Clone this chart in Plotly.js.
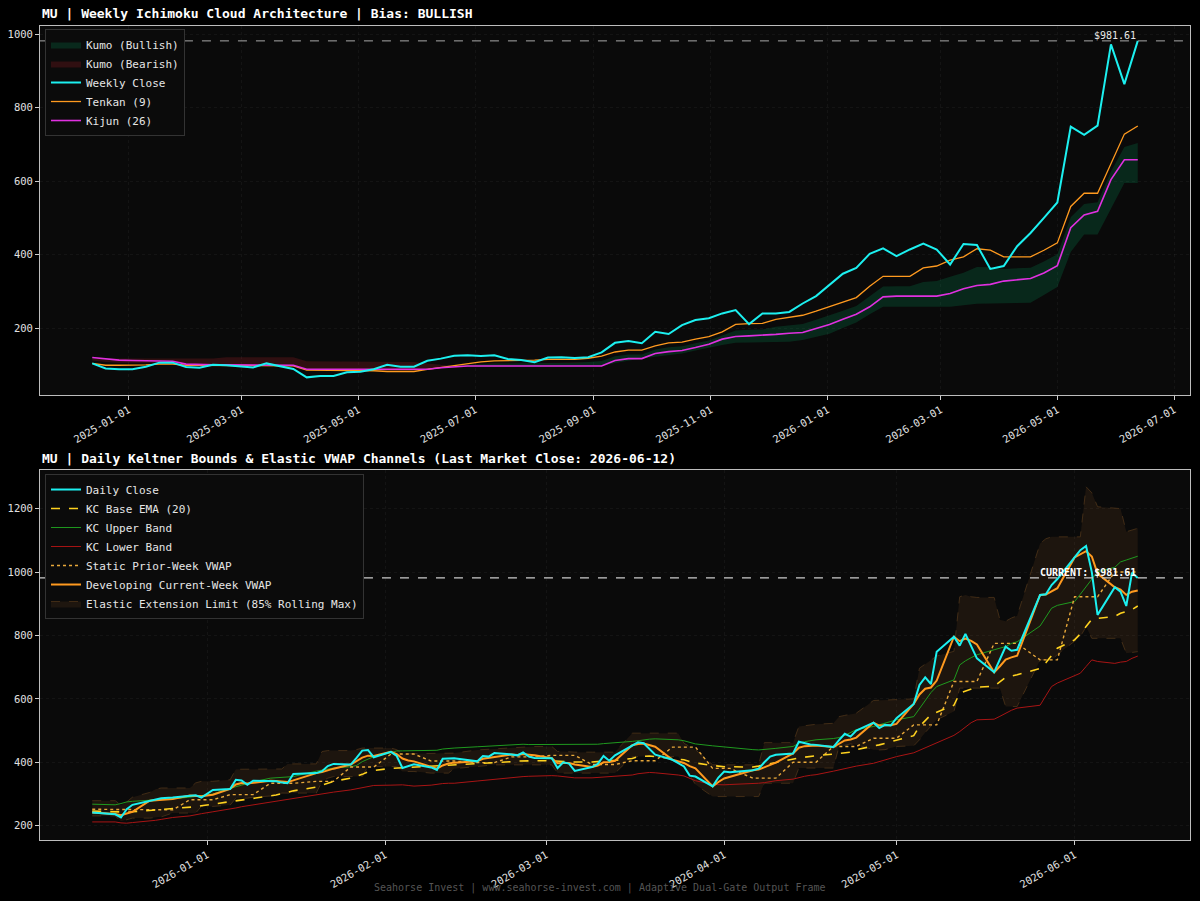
<!DOCTYPE html>
<html>
<head>
<meta charset="utf-8">
<script src="https://cdn.plot.ly/plotly-3.0.1.min.js"></script>
<style>
html,body{margin:0;padding:0;background:#000;}
#chart{width:1200px;height:901px;}
</style>
</head>
<body>
<div id="chart"></div>
<script>
// ---------------- WEEKLY (top panel) ----------------
const weeklyStart = '2024-12-13';
const weeklyClose = [104, 90, 88, 88, 95, 106, 106, 94, 92, 100,
  99, 95, 93, 104, 96, 89, 66, 70, 70, 80,
  81, 88, 100, 95, 95, 111, 117, 125, 126, 124,
  126, 116, 113, 107, 120, 121, 119, 121, 134, 160,
  165, 159, 190, 184, 208, 222, 227, 240, 249, 211,
  240, 240, 244, 267, 287, 318, 348, 364, 402, 417,
  396, 414, 430, 414, 373, 429, 426, 361, 369, 423,
  459, 500, 542, 748, 726, 751, 972, 864, 981.61];
const tenkan = [104, 99, 99, 99, 100, 102, 102, 99, 99, 99,
  99, 99, 99, 99, 98, 97, 86, 86, 86, 86,
  86, 84, 82, 82, 82, 88, 93, 97, 104, 108,
  111, 111, 111, 113, 115, 115, 115, 118, 124, 135,
  140, 140, 152, 160, 162, 170, 177, 190, 210, 212,
  213, 224, 230, 235, 246, 258, 271, 283, 314, 341,
  341, 341, 364, 369, 385, 394, 416, 412, 394, 394,
  394, 412, 432, 531, 567, 567, 649, 728, 750];
const kijun = [120, 116, 113, 112, 112, 111, 110, 102, 100, 100,
  100, 100, 100, 100, 100, 99, 88, 88, 88, 88,
  88, 88, 87, 86, 86, 88, 92, 95, 97, 97,
  97, 97, 97, 97, 97, 97, 97, 97, 97, 112,
  117, 117, 131, 136, 139, 147, 156, 170, 177, 179,
  180, 183, 186, 188, 199, 210, 224, 238, 258, 285,
  287, 287, 287, 287, 294, 307, 316, 319, 328, 331,
  335, 350, 370, 473, 508, 518, 604, 658, 658];
const senkouA = [112, 107.5, 106, 105.5, 106, 106.5, 106, 100.5, 99.5, 99.5,
  99.5, 99.5, 99.5, 99.5, 99, 98, 87, 87, 87, 87,
  87, 86, 84.5, 84, 84, 88, 92.5, 96, 100.5, 102.5,
  104, 104, 104, 105, 106, 106, 106, 107.5, 110.5, 123.5,
  128.5, 128.5, 141.5, 148, 150.5, 158.5, 166.5, 180, 193.5, 195.5,
  196.5, 203.5, 208, 211.5, 222.5, 234, 247.5, 260.5, 286, 313,
  314, 314, 325.5, 328, 339.5, 350.5, 366, 365.5, 361, 362.5,
  364.5, 381, 401, 502, 537.5, 542.5, 626.5, 693, 704];
const senkouB = [117, 117, 117, 117, 117, 117, 117, 117, 117, 117,
  121, 121, 121, 121, 121, 121, 110, 110, 110, 110,
  110, 110, 110, 110, 108, 104, 100, 95, 95, 95,
  95, 95, 95, 95, 95, 95, 95, 95, 97, 105,
  112, 117, 122, 127, 131, 139, 147, 154, 160, 161,
  161, 162, 163, 168, 176, 185, 200, 215, 238, 258,
  258, 258, 258, 258, 258, 262, 266, 267, 268, 268,
  269, 290, 312, 407, 455, 455, 525, 595, 595];
const weeklyTicks = ['2025-01-01','2025-03-01','2025-05-01','2025-07-01','2025-09-01',
  '2025-11-01','2026-01-01','2026-03-01','2026-05-01','2026-07-01'];

// ---------------- DAILY (bottom panel) ----------------
const dailyDates = [
 '2025-12-12','2025-12-15','2025-12-16','2025-12-17','2025-12-18','2025-12-19','2025-12-22','2025-12-23','2025-12-24','2025-12-26','2025-12-29','2025-12-30','2025-12-31',
 '2026-01-02','2026-01-05','2026-01-06','2026-01-07','2026-01-08','2026-01-09','2026-01-12','2026-01-13','2026-01-14','2026-01-15','2026-01-16','2026-01-20','2026-01-21','2026-01-22','2026-01-23','2026-01-26','2026-01-27','2026-01-28','2026-01-29','2026-01-30',
 '2026-02-02','2026-02-03','2026-02-04','2026-02-05','2026-02-06','2026-02-09','2026-02-10','2026-02-11','2026-02-12','2026-02-13','2026-02-17','2026-02-18','2026-02-19','2026-02-20','2026-02-23','2026-02-24','2026-02-25','2026-02-26','2026-02-27',
 '2026-03-02','2026-03-03','2026-03-04','2026-03-05','2026-03-06','2026-03-09','2026-03-10','2026-03-11','2026-03-12','2026-03-13','2026-03-16','2026-03-17','2026-03-18','2026-03-19','2026-03-20','2026-03-23','2026-03-24','2026-03-25','2026-03-26','2026-03-27','2026-03-30','2026-03-31',
 '2026-04-01','2026-04-02','2026-04-06','2026-04-07','2026-04-08','2026-04-09','2026-04-10','2026-04-13','2026-04-14','2026-04-15','2026-04-16','2026-04-17','2026-04-20','2026-04-21','2026-04-22','2026-04-23','2026-04-24','2026-04-27','2026-04-28','2026-04-29','2026-04-30',
 '2026-05-01','2026-05-04','2026-05-05','2026-05-06','2026-05-07','2026-05-08','2026-05-11','2026-05-12','2026-05-13','2026-05-14','2026-05-15','2026-05-18','2026-05-19','2026-05-20','2026-05-21','2026-05-22','2026-05-26','2026-05-27','2026-05-28','2026-05-29',
 '2026-06-01','2026-06-02','2026-06-03','2026-06-04','2026-06-05','2026-06-08','2026-06-09','2026-06-10','2026-06-11','2026-06-12'];
const dailyClose = [242, 238, 236, 226, 252, 266, 279, 282, 287, 289, 295, 296, 289,
 313, 316, 345, 343, 329, 342, 342, 340, 336, 334, 363, 366, 372, 388, 395, 393, 414, 437, 439, 416,
 433, 420, 382, 388, 394, 384, 376, 411, 413, 413, 403, 420, 418, 429, 425, 422, 431, 418, 414,
 413, 382, 400, 396, 373, 385, 395, 420, 405, 422, 454, 463, 460, 442, 424, 408, 398, 387, 358, 355, 324, 352,
 371, 369, 375, 380, 400, 418, 424, 428, 465, 460, 456, 455, 448, 470, 490, 481, 500, 525, 508, 518, 516,
 539, 584, 644, 668, 647, 749, 796, 768, 805, 765, 728, 684, 723, 765, 752, 755, 928, 930, 959, 978,
 1046, 1069, 1082, 1000, 865, 952, 938, 893, 998, 981.61];
const kcBase = [246, 244, 243, 242, 243, 244, 248, 250, 251, 254, 258, 260, 263,
 268, 275, 277, 280, 282, 285, 294, 297, 300, 305, 310, 322, 328, 334, 340, 350, 355, 362, 370, 374,
 381, 382, 383, 384, 385, 387, 388, 389, 390, 391, 394, 395, 396, 397, 402, 404, 405, 405, 405,
 405, 404, 403, 402, 401, 401, 402, 403, 404, 406, 412, 418, 419, 420, 418, 412, 410, 408, 402, 398, 390, 387,
 386, 386, 385, 388, 392, 396, 400, 410, 414, 416, 419, 421, 426, 428, 429, 432, 440, 450, 455, 460, 465,
 470, 484, 513, 532, 550, 558, 580, 618, 625, 632, 637, 640, 654, 668, 672, 676, 696, 714, 737, 760,
 786, 805, 828, 851, 854, 860, 870, 875, 882, 893];
const kcUpper = [268, 267, 266, 270, 275, 277, 280, 281, 282, 285, 290, 292, 294,
 300, 318, 322, 328, 333, 338, 350, 351, 352, 353, 355, 372, 376, 380, 382, 386, 390, 402, 410, 418,
 430, 436, 436, 436, 436, 436, 438, 442, 444, 445, 449, 450, 451, 452, 456, 457, 457, 456, 456,
 455, 455, 455, 455, 455, 456, 457, 459, 460, 462, 466, 468, 471, 473, 474, 472, 471, 468, 463, 458, 452, 450,
 448, 446, 440, 439, 440, 442, 444, 450, 460, 465, 469, 471, 475, 478, 485, 495, 503, 513, 518, 523, 528,
 534, 544, 570, 598, 620, 639, 660, 707, 720, 730, 739, 755, 760, 765, 775, 780, 830, 858, 886, 895,
 907, 930, 954, 980, 1001, 1015, 1032, 1038, 1045, 1050];
const kcLower = [212, 212, 212, 209, 208, 210, 214, 217, 220, 226, 231, 235, 238,
 244, 252, 256, 260, 263, 266, 275, 278, 281, 283, 286, 298, 301, 304, 306, 313, 316, 319, 323, 327,
 328, 329, 329, 327, 325, 328, 331, 333, 334, 334, 341, 343, 345, 347, 352, 353, 355, 356, 357,
 358, 357, 355, 353, 351, 351, 352, 353, 354, 355, 360, 364, 367, 368, 367, 363, 360, 357, 350, 342, 330, 329,
 329, 330, 332, 334, 336, 339, 342, 347, 352, 356, 359, 361, 372, 376, 380, 384, 388, 397, 402, 407, 413,
 418, 430, 438, 446, 453, 460, 485, 497, 512, 525, 534, 536, 545, 555, 564, 571, 580, 610, 639, 650,
 672, 681, 702, 723, 718, 712, 716, 718, 728, 735];
const priorWeekVwap = [252, 252, 252, 252, 252, 252, 250, 250, 250, 250, 282, 282, 282,
 282, 298, 298, 298, 298, 298, 334, 334, 334, 334, 334, 340, 340, 340, 340, 385, 385, 385, 385, 385,
 426, 426, 426, 426, 426, 404, 404, 404, 404, 404, 399, 399, 399, 399, 417, 417, 417, 417, 417,
 422, 422, 422, 422, 422, 393, 393, 393, 393, 393, 405, 405, 405, 405, 405, 448, 448, 448, 448, 448, 381, 381,
 381, 381, 350, 350, 350, 350, 350, 400, 400, 400, 400, 400, 450, 450, 450, 450, 450, 476, 476, 476, 476,
 476, 518, 518, 518, 518, 518, 655, 655, 655, 655, 655, 775, 775, 775, 775, 775, 723, 723, 723, 723,
 922, 922, 922, 922, 922, 1000, 1000, 1000, 1000, 1000];
const currentWeekVwap = [242, 238, 237, 233, 238, 244, 279, 280, 283, 284, 295, 295, 293,
 298, 316, 330, 335, 333, 335, 342, 341, 339, 338, 343, 366, 369, 375, 380, 393, 403, 415, 421, 420,
 433, 426, 412, 406, 403, 384, 380, 390, 396, 399, 403, 411, 414, 417, 425, 423, 426, 424, 422,
 413, 397, 398, 398, 393, 385, 390, 400, 401, 405, 454, 458, 459, 455, 449, 408, 403, 398, 388, 381, 324, 338,
 349, 354, 375, 377, 385, 393, 399, 428, 446, 451, 452, 453, 448, 459, 469, 472, 478, 525, 516, 517, 517,
 521, 584, 614, 632, 636, 658, 796, 782, 790, 783, 772, 684, 703, 724, 731, 736, 928, 929, 939, 949,
 1046, 1057, 1066, 1049, 995, 952, 945, 928, 938, 942];
const elasticUpper = [279, 279, 279, 265, 275, 290, 305, 315, 319, 319, 319, 335, 340,
 340, 345, 378, 378, 378, 378, 378, 379, 379, 395, 395, 395, 434, 437, 437, 437, 440, 445, 445, 445,
 445, 440, 427, 427, 427, 427, 427, 427, 429, 429, 439, 440, 442, 444, 446, 448, 449, 450, 450,
 450, 434, 434, 432, 432, 432, 432, 432, 432, 432, 492, 492, 492, 492, 492, 492, 492, 460, 450, 440, 392, 392,
 392, 392, 392, 392, 462, 462, 462, 462, 513, 515, 518, 520, 523, 544, 548, 552, 555, 595, 596, 597, 597,
 597, 600, 697, 710, 723, 735, 750, 922, 928, 922, 920, 920, 850, 845, 855, 862, 1090, 1105, 1111, 1111,
 1111, 1111, 1269, 1250, 1206, 1203, 1200, 1127, 1133, 1138];
const elasticLower = [231, 231, 231, 214, 220, 224, 224, 226, 228, 240, 240, 240, 261,
 261, 265, 287, 287, 287, 290, 295, 295, 303, 303, 303, 303, 340, 350, 355, 355, 355, 355, 387, 387,
 387, 387, 371, 371, 371, 366, 366, 366, 366, 380, 388, 390, 392, 392, 392, 392, 392, 392, 392,
 392, 366, 366, 366, 366, 366, 366, 366, 366, 366, 418, 418, 418, 418, 418, 418, 418, 390, 360, 330, 292, 292,
 292, 292, 292, 292, 334, 334, 334, 334, 382, 382, 382, 382, 382, 450, 455, 458, 455, 440, 439, 440, 445,
 450, 452, 471, 494, 513, 534, 560, 634, 634, 634, 634, 634, 634, 576, 576, 576, 723, 723, 723, 740,
 780, 796, 828, 791, 791, 791, 791, 744, 747, 749];
const dailyTicks = ['2026-01-01','2026-02-01','2026-03-01','2026-04-01','2026-05-01','2026-06-01'];
const lastCloseLabel = 'CURRENT: $' + dailyClose[dailyClose.length-1].toFixed(2);

// ---------------- helpers ----------------
const weeklyDates = weeklyClose.map((_, i) => {
  const t = Date.parse(weeklyStart + 'T00:00:00Z') + i * 7 * 86400000;
  return new Date(t).toISOString().slice(0, 10);
});
const kumoTop = senkouA.map((a, i) => Math.max(a, senkouB[i]));
const lastWeekly = weeklyClose[weeklyClose.length - 1];
const lastDaily = dailyClose[dailyClose.length - 1];

const MONO = 'DejaVu Sans Mono, monospace';
const skip = {showlegend: false, hoverinfo: 'skip'};

const traces = [
  // top panel
  Object.assign({x: weeklyDates, y: senkouB, mode: 'lines', line: {width: 0}, xaxis: 'x', yaxis: 'y'}, skip),
  {x: weeklyDates, y: kumoTop, mode: 'lines', line: {width: 0}, fill: 'tonexty',
   fillcolor: 'rgba(0,190,110,0.17)', name: 'Kumo (Bullish)', xaxis: 'x', yaxis: 'y', legend: 'legend', legendrank: 1},
  Object.assign({x: weeklyDates, y: senkouA, mode: 'lines', line: {width: 0}, xaxis: 'x', yaxis: 'y'}, skip),
  {x: weeklyDates, y: kumoTop, mode: 'lines', line: {width: 0}, fill: 'tonexty',
   fillcolor: 'rgba(200,35,45,0.2)', name: 'Kumo (Bearish)', xaxis: 'x', yaxis: 'y', legend: 'legend', legendrank: 2},
  {x: weeklyDates, y: tenkan, mode: 'lines', line: {color: '#ff9a1f', width: 1.3},
   name: 'Tenkan (9)', xaxis: 'x', yaxis: 'y', legend: 'legend', legendrank: 4},
  {x: weeklyDates, y: kijun, mode: 'lines', line: {color: '#e030e0', width: 1.6},
   name: 'Kijun (26)', xaxis: 'x', yaxis: 'y', legend: 'legend', legendrank: 5},
  {x: weeklyDates, y: weeklyClose, mode: 'lines', line: {color: '#1cf0f0', width: 2},
   name: 'Weekly Close', xaxis: 'x', yaxis: 'y', legend: 'legend', legendrank: 3},

  // bottom panel
  Object.assign({x: dailyDates, y: elasticLower, mode: 'lines',
   line: {color: '#4d3419', width: 0.8, dash: 'dash'}, xaxis: 'x2', yaxis: 'y2'}, skip),
  {x: dailyDates, y: elasticUpper, mode: 'lines', line: {color: '#4d3419', width: 0.8, dash: 'dash'},
   fill: 'tonexty', fillcolor: 'rgba(150,95,40,0.14)',
   name: 'Elastic Extension Limit (85% Rolling Max)', xaxis: 'x2', yaxis: 'y2', legend: 'legend2', legendrank: 7},
  {x: dailyDates, y: kcLower, mode: 'lines', line: {color: '#a81414', width: 1},
   name: 'KC Lower Band', xaxis: 'x2', yaxis: 'y2', legend: 'legend2', legendrank: 4},
  {x: dailyDates, y: kcUpper, mode: 'lines', line: {color: '#1f9a1f', width: 1},
   name: 'KC Upper Band', xaxis: 'x2', yaxis: 'y2', legend: 'legend2', legendrank: 3},
  {x: dailyDates, y: priorWeekVwap, mode: 'lines', line: {color: '#e8a83a', width: 1.4, dash: 'dot'},
   name: 'Static Prior-Week VWAP', xaxis: 'x2', yaxis: 'y2', legend: 'legend2', legendrank: 5},
  {x: dailyDates, y: kcBase, mode: 'lines', line: {color: '#ffd21f', width: 1.6, dash: 'dash'},
   name: 'KC Base EMA (20)', xaxis: 'x2', yaxis: 'y2', legend: 'legend2', legendrank: 2},
  {x: dailyDates, y: currentWeekVwap, mode: 'lines', line: {color: '#ff9a1f', width: 2},
   name: 'Developing Current-Week VWAP', xaxis: 'x2', yaxis: 'y2', legend: 'legend2', legendrank: 6},
  {x: dailyDates, y: dailyClose, mode: 'lines', line: {color: '#1cf0f0', width: 2},
   name: 'Daily Close', xaxis: 'x2', yaxis: 'y2', legend: 'legend2', legendrank: 1}
];

const axisCommon = {
  showline: true, mirror: true, linecolor: '#bdbdbd', linewidth: 1,
  ticks: 'outside', ticklen: 4, tickcolor: '#cfcfcf', tickwidth: 1,
  tickfont: {family: MONO, size: 10.5, color: '#e0e0e0'},
  showgrid: true, gridcolor: 'rgba(255,255,255,0.045)', griddash: 'dot', gridwidth: 1,
  zeroline: false, fixedrange: true
};
const legendCommon = {
  xanchor: 'left', yanchor: 'top', bgcolor: '#0b0b0b', bordercolor: '#333333', borderwidth: 1,
  font: {family: MONO, size: 11, color: '#e6e6e6'}, itemwidth: 30, tracegroupgap: 0,
  traceorder: 'normal'
};

const layout = {
  width: 1200, height: 901,
  paper_bgcolor: '#000000', plot_bgcolor: '#0a0a0a',
  margin: {l: 0, r: 0, t: 0, b: 0},
  showlegend: true,
  xaxis: Object.assign({}, axisCommon, {
    domain: [0.0333, 0.9917], anchor: 'y', type: 'date',
    range: ['2024-11-15 16:48', '2026-07-09 07:12'],
    tickvals: weeklyTicks, ticktext: weeklyTicks, tickangle: -30
  }),
  yaxis: Object.assign({}, axisCommon, {
    domain: [0.5616, 0.9711], anchor: 'x', range: [18, 1022],
    tickvals: [200, 400, 600, 800, 1000]
  }),
  xaxis2: Object.assign({}, axisCommon, {
    domain: [0.0333, 0.9917], anchor: 'y2', type: 'date',
    range: ['2025-12-02 21:36', '2026-06-21 02:24'],
    tickvals: dailyTicks, ticktext: dailyTicks, tickangle: -30
  }),
  yaxis2: Object.assign({}, axisCommon, {
    domain: [0.0677, 0.4784], anchor: 'x2', range: [155, 1322],
    tickvals: [200, 400, 600, 800, 1000, 1200]
  }),
  legend: Object.assign({}, legendCommon, {x: 0.0375, y: 0.9678}),
  legend2: Object.assign({}, legendCommon, {x: 0.0375, y: 0.4739}),
  shapes: [
    {type: 'line', xref: 'x domain', yref: 'y', x0: 0, x1: 1, y0: lastWeekly, y1: lastWeekly,
     line: {color: '#a8a8a8', width: 1, dash: 'dash'}},
    {type: 'line', xref: 'x2 domain', yref: 'y2', x0: 0, x1: 1, y0: lastDaily, y1: lastDaily,
     line: {color: '#cccccc', width: 1.4, dash: 'dash'}}
  ],
  annotations: [
    {xref: 'paper', yref: 'paper', x: 0.0333, y: 0.9740, xanchor: 'left', yanchor: 'bottom',
     text: '<b>MU | Weekly Ichimoku Cloud Architecture | Bias: BULLISH</b>', showarrow: false,
     font: {family: MONO, size: 13, color: '#ffffff'}},
    {xref: 'paper', yref: 'paper', x: 0.0333, y: 0.4801, xanchor: 'left', yanchor: 'bottom',
     text: '<b>MU | Daily Keltner Bounds & Elastic VWAP Channels (Last Market Close: 2026-06-12)</b>', showarrow: false,
     font: {family: MONO, size: 13, color: '#ffffff'}},
    {xref: 'x', yref: 'y', x: weeklyDates[weeklyDates.length - 1], y: lastWeekly, xanchor: 'right', yanchor: 'bottom',
     text: '$' + lastWeekly.toFixed(2), showarrow: false, yshift: -2,
     font: {family: MONO, size: 10, color: '#e8e8e8'}},
    {xref: 'x2', yref: 'y2', x: dailyDates[dailyDates.length - 1], y: lastDaily, xanchor: 'right', yanchor: 'bottom',
     text: '<b>' + lastCloseLabel + '</b>', showarrow: false, yshift: -2,
     font: {family: MONO, size: 10, color: '#ffffff'}},
    {xref: 'paper', yref: 'paper', x: 0.5, y: 0.0144, xanchor: 'center', yanchor: 'middle',
     text: 'Seahorse Invest | www.seahorse-invest.com | Adaptive Dual-Gate Output Frame', showarrow: false,
     font: {family: MONO, size: 10, color: '#555555'}}
  ]
};

Plotly.newPlot('chart', traces, layout, {displayModeBar: false, staticPlot: true});
</script>
</body>
</html>
